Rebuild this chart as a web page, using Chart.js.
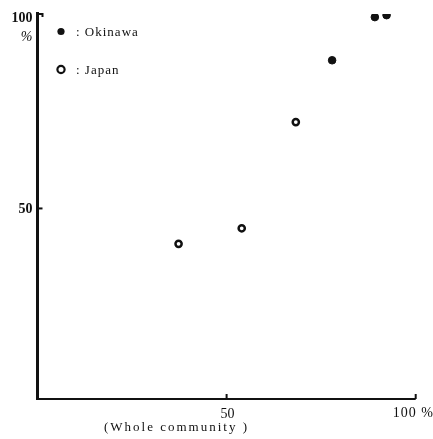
<!DOCTYPE html>
<html>
<head>
<meta charset="utf-8">
<script src="https://cdn.jsdelivr.net/npm/chart.js@4.4.1/dist/chart.umd.min.js"></script>
<style>
  html, body { margin: 0; padding: 0; background: #fff; overflow: hidden; }
  canvas { display: block; }
</style>
</head>
<body>
<canvas id="scatter-chart" width="433" height="439"></canvas>
<script>
// values (x: whole community %, y: %)
const okinawaX = [77.9, 89.2, 92.3];
const okinawaY = [88.1, 99.2, 99.7];
const japanX = [37.3, 54.0, 68.3];
const japanY = [40.9, 44.9, 72.2];
const xTicks = [50, 100];
const yTicks = [50, 100];
const xTickLabels = ["50", "100 %"];
const yTickLabels = ["50", "100"];
const xTitle = "(Whole community )";
const seriesNames = ["Okinawa", "Japan"];

function toPoints(xs, ys) {
  return xs.map((x, i) => ({ x: x, y: ys[i] }));
}

const serif = '"Liberation Serif", "DejaVu Serif", serif';

// axes, inward ticks, tick text and the legend inside the plot
const paperAxes = {
  id: "paperAxes",
  afterDatasetsDraw(chart) {
    const ctx = chart.ctx;
    const xs = chart.scales.x;
    const ys = chart.scales.y;
    const x0 = xs.getPixelForValue(0);
    const y0 = ys.getPixelForValue(1);
    ctx.save();
    ctx.strokeStyle = "#111";
    ctx.fillStyle = "#111";

    // y axis
    ctx.lineWidth = 3;
    ctx.beginPath();
    ctx.moveTo(x0, ys.getPixelForValue(100) - 2);
    ctx.lineTo(x0, y0 + 1);
    ctx.stroke();
    // x axis
    ctx.lineWidth = 2;
    ctx.beginPath();
    ctx.moveTo(x0, y0);
    ctx.lineTo(xs.getPixelForValue(100), y0);
    ctx.stroke();

    // ticks
    ctx.lineWidth = 2;
    yTicks.forEach((v) => {
      const py = ys.getPixelForValue(v);
      ctx.beginPath();
      ctx.moveTo(x0, py);
      ctx.lineTo(x0 + 5, py);
      if (v === 100) ctx.lineTo(x0 + 5, py + 3);
      ctx.stroke();
    });
    xTicks.forEach((v) => {
      const px = xs.getPixelForValue(v);
      ctx.beginPath();
      ctx.moveTo(px, y0);
      ctx.lineTo(px, y0 - 5);
      ctx.stroke();
    });

    // y tick labels
    ctx.textBaseline = "middle";
    ctx.textAlign = "right";
    ctx.font = "bold 14px " + serif;
    yTicks.forEach((v, i) => {
      ctx.fillText(yTickLabels[i], x0 - 5, ys.getPixelForValue(v) + (v === 100 ? 4 : 1));
    });
    ctx.font = "italic 14px " + serif;
    ctx.fillText("%", x0 - 5, ys.getPixelForValue(100) + 23);

    // x tick labels
    ctx.font = "14px " + serif;
    ctx.textAlign = "center";
    ctx.fillText(xTickLabels[0], xs.getPixelForValue(xTicks[0]) + 1, y0 + 15);
    ctx.textAlign = "left";
    ctx.letterSpacing = "1px";
    ctx.fillText(xTickLabels[1], xs.getPixelForValue(xTicks[1]) - 23, y0 + 14);

    // x title
    ctx.font = "13px " + serif;
    ctx.letterSpacing = "2px";
    ctx.fillText(xTitle, 104, y0 + 29);

    // legend
    ctx.font = "13px " + serif;
    ctx.letterSpacing = "1px";
    chart.data.datasets.forEach((ds, i) => {
      const ly = 31.5 + i * 38;
      ctx.beginPath();
      ctx.arc(61, ly, 3.6, 0, Math.PI * 2);
      if (ds.backgroundColor === "#111") {
        ctx.fill();
      } else {
        ctx.lineWidth = 2.2;
        ctx.stroke();
      }
      ctx.fillText(": " + ds.label, 76, ly + 1);
    });
    ctx.restore();
  },
};

const ctx = document.getElementById("scatter-chart").getContext("2d");
const scatterChart = new Chart(ctx, {
  type: "scatter",
  data: {
    datasets: [
      {
        label: seriesNames[0],
        data: toPoints(okinawaX, okinawaY),
        backgroundColor: "#111",
        borderColor: "#111",
        borderWidth: 1,
        pointRadius: 3.8,
      },
      {
        label: seriesNames[1],
        data: toPoints(japanX, japanY),
        backgroundColor: "#fff",
        borderColor: "#111",
        borderWidth: 2.5,
        pointRadius: 3.1,
      },
    ],
  },
  options: {
    responsive: false,
    animation: false,
    layout: { padding: { left: 37.5, right: 17.3, top: 14, bottom: 40 } },
    plugins: { legend: { display: false }, tooltip: { enabled: false } },
    scales: {
      x: { type: "linear", min: 0, max: 100, display: false },
      y: { type: "linear", min: 1, max: 100, display: false },
    },
  },
  plugins: [paperAxes],
});
</script>
</body>
</html>
